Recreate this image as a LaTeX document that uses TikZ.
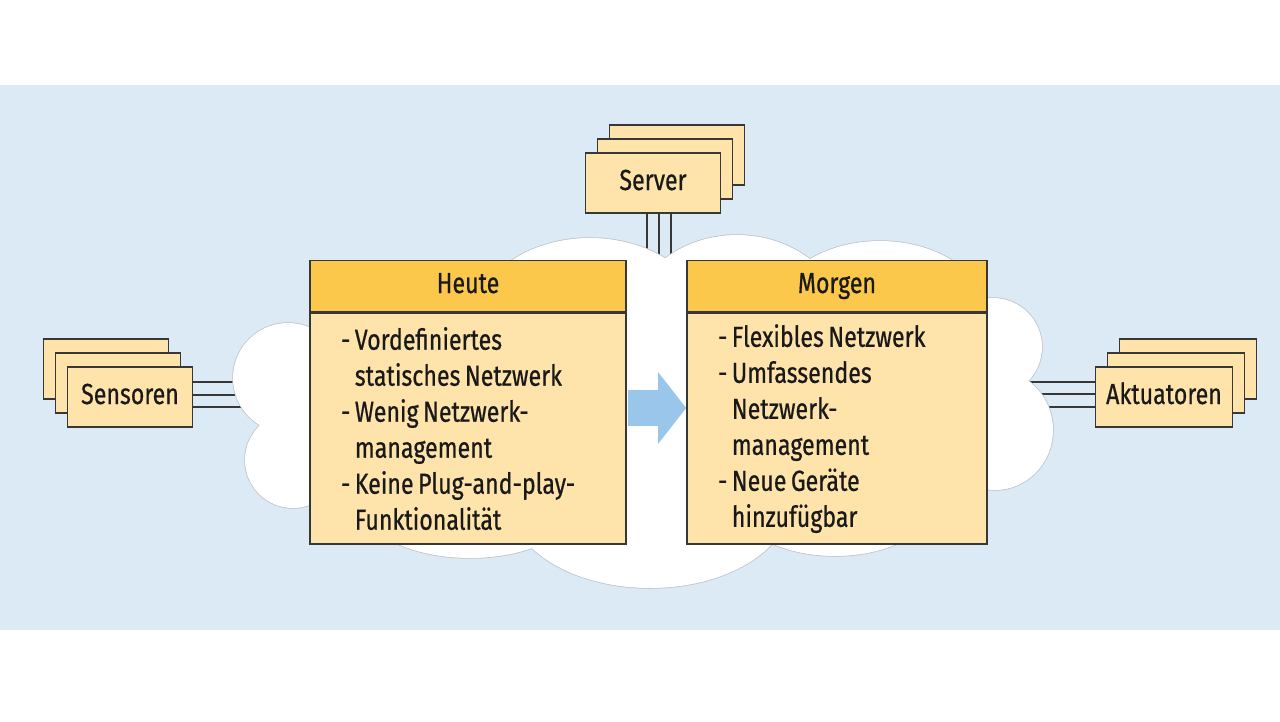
\documentclass[tikz,border=0pt]{standalone}
\usepackage{fontspec}
\setmainfont{Fira Sans}[FakeStretch=0.8, FakeBold=0.6]
\usetikzlibrary{positioning,arrows.meta}

\definecolor{bgblue}{RGB}{220,234,245}
\definecolor{hdrgold}{RGB}{251,200,76}
\definecolor{boxcream}{RGB}{254,228,170}
\definecolor{edgegrey}{RGB}{55,55,55}
\definecolor{cloudedge}{RGB}{188,194,202}
\definecolor{arrowblue}{RGB}{155,198,236}
\definecolor{inkblack}{RGB}{25,25,25}

\newcommand\txtfont{\fontsize{29}{36}\selectfont}
% bumps of the cloud
\newcommand\cloudbumps{%
  (288,378) circle (55)
  (293,460) circle (48)
  (590,330) ellipse (120 and 92)
  (737,335) ellipse (112 and 100)
  (880,320) ellipse (110 and 79)
  (993,347) circle (49)
  (995,430) ellipse (58 and 60)
  (470,500) ellipse (111 and 58)
  (650,500) ellipse (141 and 88)
  (835,500) ellipse (100 and 56)}

\tikzset{
  stackbox/.style={draw=edgegrey, fill=boxcream, line width=1.6pt, minimum height=60pt, inner sep=0pt, text height=20pt, text depth=6pt, text=inkblack, font=\txtfont},
  headbox/.style={draw=edgegrey, fill=hdrgold, line width=1.6pt, minimum height=51pt, inner sep=0pt, text height=20pt, text depth=6pt, text=inkblack, font=\txtfont},
  bodybox/.style={draw=edgegrey, fill=boxcream, line width=1.6pt, minimum height=231pt, inner xsep=31pt, inner ysep=0pt, align=left, text=inkblack, font=\txtfont,
    execute at begin node={\spaceskip=4.5pt plus 1pt minus 0.5pt\xspaceskip=4.5pt\relax}},
  link/.style={draw=edgegrey, line width=1.5pt},
  bigarrow/.style={draw=arrowblue, line width=36pt, -{Triangle[length=28pt,width=70pt]}}
}

\begin{document}
\begin{tikzpicture}[x=1pt, y=-1pt]
\useasboundingbox (0,0) rectangle (1280,721);
\fill[white] (0,0) rectangle (1280,721);
\fill[bgblue] (0,85) rectangle (1280,630);

% stacks
\node[stackbox, minimum width=125pt] (sens3) at (106,369) {};
\node[stackbox, minimum width=125pt] (sens2) at (118,383) {};
\node[stackbox, minimum width=125pt] (sens) at (130,397) {Sensoren};
\node[stackbox, minimum width=135pt] (serv3) at (677,155) {};
\node[stackbox, minimum width=135pt] (serv2) at (665,169) {};
\node[stackbox, minimum width=135pt] (serv) at (653,183) {Server};
\node[stackbox, minimum width=137pt] (akt3) at (1188,369) {};
\node[stackbox, minimum width=137pt] (akt2) at (1176,383) {};
\node[stackbox, minimum width=137pt] (akt) at (1164,397) {Aktuatoren};

% links into the cloud
\coordinate (cs1) at (290,382);
\coordinate (cs2) at (290,395);
\coordinate (cs3) at (290,407);
\coordinate (ca1) at (1000,382);
\coordinate (ca2) at (1000,394);
\coordinate (ca3) at (1000,407);
\coordinate (cv1) at (647,280);
\coordinate (cv2) at (659,280);
\coordinate (cv3) at (671,280);
\foreach \i in {1,2,3} {
  \draw[link] (sens.east |- cs\i) -- (cs\i);
  \draw[link] (akt.west |- ca\i) -- (ca\i);
  \draw[link] (serv.south -| cv\i) -- (cv\i);
}

% cloud
\draw[cloudedge, line width=1.5pt] \cloudbumps;
\fill[white] \cloudbumps;
\fill[white] (315,270) rectangle (980,540);

% today / tomorrow
\node[headbox, minimum width=316pt] (heuteK) at (468,286) {Heute};
\node[bodybox, text width=254pt] (heuteB) [below=0pt of heuteK]
  {- Vordefiniertes\\\hphantom{- }statisches Netzwerk\\- Wenig Netzwerk-\\\hphantom{- }management\\- Keine Plug-and-play-\\\hphantom{- }Funktionalität};
\node[headbox, minimum width=300pt] (morgenK) at (837,286) {Morgen};
\node[bodybox, text width=238pt] (morgenB) [below=0pt of morgenK]
  {- Flexibles Netzwerk\\- Umfassendes\\\hphantom{- }Netzwerk-\\\hphantom{- }management\\- Neue Geräte\\\hphantom{- }hinzufügbar};

\coordinate (lvl) at (656,408);
\draw[bigarrow, shorten <=1pt] (heuteB.east |- lvl) -- (morgenB.west |- lvl);
\end{tikzpicture}
\end{document}
